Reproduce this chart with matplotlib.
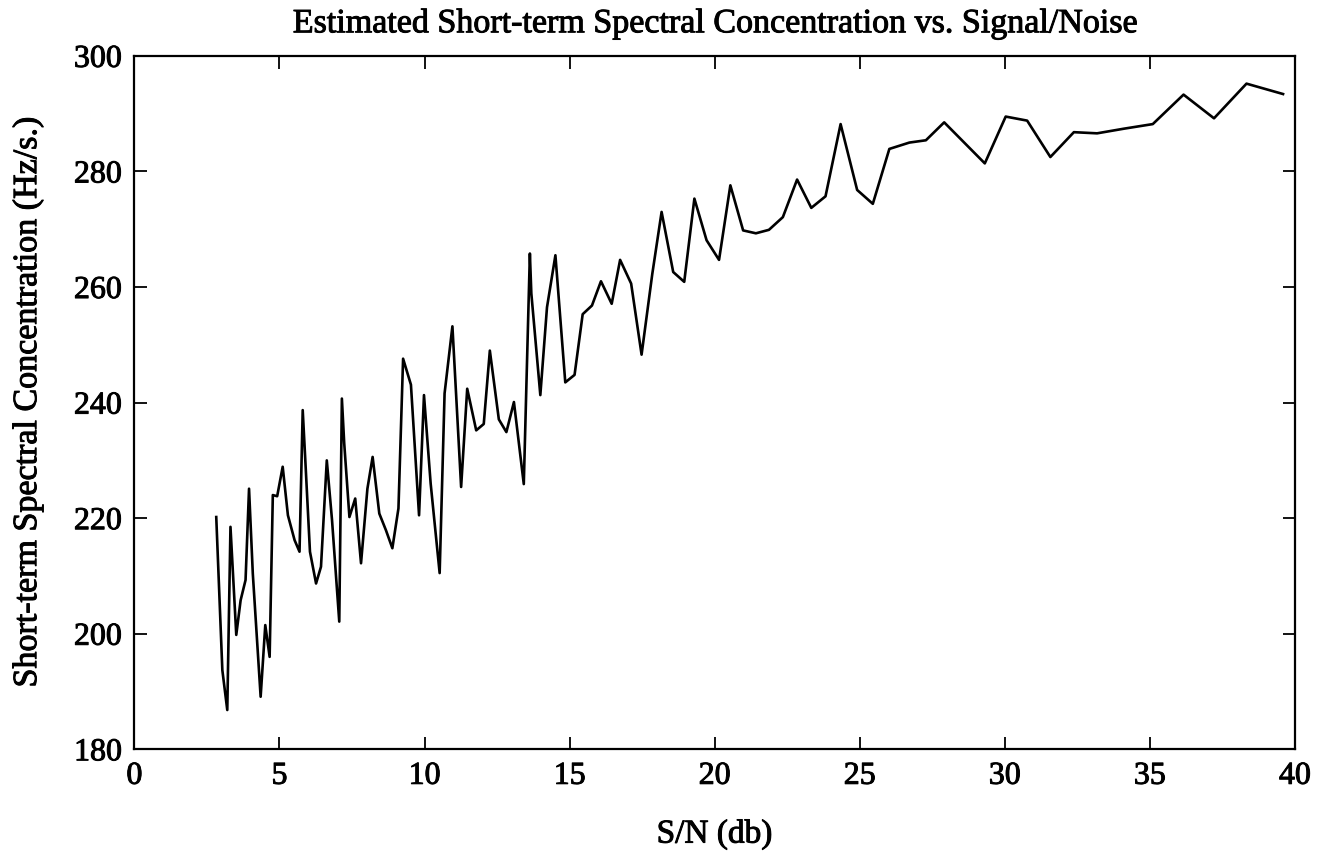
#!/usr/bin/python3
# -*- coding: utf-8 -*-
import numpy as np
import matplotlib
matplotlib.use('Agg')
import matplotlib.pyplot as plt
import matplotlib.patheffects as pe

# S/N (db) and estimated short-term spectral concentration (Hz/s.)
snr_db = [2.82, 3.03, 3.20, 3.31, 3.51, 3.66, 3.83, 3.95, 4.08, 4.35,
          4.51, 4.66, 4.77, 4.92, 5.11, 5.29, 5.52, 5.69, 5.80, 5.89,
          6.05, 6.26, 6.43, 6.63, 6.81, 7.06, 7.15, 7.23, 7.41, 7.61,
          7.81, 8.03, 8.21, 8.44, 8.67, 8.89, 9.10, 9.26, 9.53, 9.81,
          9.98, 10.21, 10.52, 10.69, 10.96, 11.26, 11.47, 11.78, 12.04, 12.25,
          12.56, 12.82, 13.08, 13.42, 13.63, 13.68, 13.99, 14.22, 14.51, 14.85,
          15.17, 15.45, 15.77, 16.08, 16.45, 16.74, 17.12, 17.48, 17.85, 18.17,
          18.57, 18.95, 19.30, 19.72, 20.15, 20.54, 20.98, 21.42, 21.87, 22.35,
          22.84, 23.33, 23.82, 24.34, 24.91, 25.45, 26.02, 26.71, 27.28, 27.91,
          29.31, 30.03, 30.77, 31.57, 32.38, 33.18, 34.10, 35.10, 36.16, 37.21,
          38.33, 39.59]
conc = [220.2, 193.7, 186.8, 218.5, 199.8, 205.8, 209.3, 225.1, 210.4, 189.1,
        201.5, 196.0, 224.0, 223.8, 228.9, 220.5, 216.2, 214.2, 238.7, 230.0,
        214.2, 208.7, 211.6, 230.0, 219.7, 202.1, 240.7, 233.0, 220.2, 223.4,
        212.2, 225.1, 230.6, 220.8, 217.9, 214.8, 221.7, 247.6, 243.1, 220.5,
        241.3, 226.0, 210.5, 241.6, 253.2, 225.4, 242.4, 235.2, 236.3, 249.0,
        237.1, 234.9, 240.1, 225.9, 265.8, 258.9, 241.3, 256.5, 265.5, 243.5,
        244.8, 255.3, 256.8, 261.0, 257.1, 264.7, 260.6, 248.3, 262.3, 273.0,
        262.6, 260.9, 275.3, 268.1, 264.7, 277.6, 269.8, 269.3, 269.9, 272.1,
        278.6, 273.7, 275.7, 288.2, 276.8, 274.4, 283.9, 285.0, 285.4, 288.5,
        281.4, 289.5, 288.8, 282.5, 286.8, 286.6, 287.4, 288.2, 293.3, 289.2,
        295.2, 293.4]

plt.rcParams['font.family'] = ['Liberation Serif', 'DejaVu Serif']
# slightly heavier strokes on all text
heavy = [pe.withStroke(linewidth=0.7, foreground='black')]

fig = plt.figure(figsize=(13.35, 8.6), dpi=100)
ax = fig.add_axes([0.1007, 0.1287, 0.8693, 0.8063])

ax.plot(snr_db, conc, color='black', lw=1.9)

ax.set_xlim(0, 40)
ax.set_ylim(180, 300)
ax.set_xticks(np.arange(0, 41, 5))
ax.set_yticks(np.arange(180, 301, 20))
ax.tick_params(direction='in', top=True, right=True, length=9, width=1.3,
               labelsize=23)
ax.tick_params(axis='x', pad=9)
ax.tick_params(axis='y', pad=9)
for s in ax.spines.values():
    s.set_linewidth(1.6)

t = ax.set_title('Estimated Short-term Spectral Concentration vs. Signal/Noise',
                 fontsize=24.5, pad=17)
xl = ax.set_xlabel('S/N (db)', fontsize=24, labelpad=20)
yl = ax.set_ylabel('Short-term Spectral Concentration (Hz/s.)', fontsize=24.5,
                   labelpad=22)

for txt in [t, xl, yl] + ax.get_xticklabels() + ax.get_yticklabels():
    txt.set_path_effects(heavy)

fig.savefig('out.png', dpi=100)
